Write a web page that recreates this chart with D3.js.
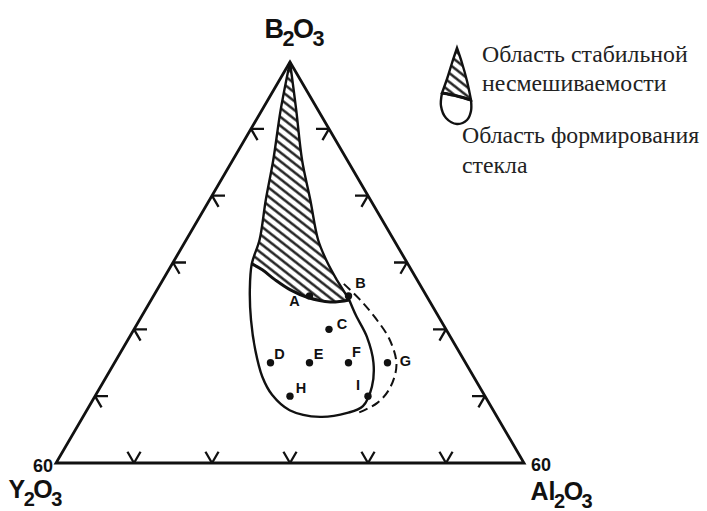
<!DOCTYPE html>
<html>
<head>
<meta charset="utf-8">
<script src="https://cdn.jsdelivr.net/npm/d3@7"></script>
<style>
  body { margin: 0; background: #fff; }
  svg { display: block; }
</style>
</head>
<body>
<svg width="707" height="511"></svg>
<script>

// compositions, mol % : [B2O3, Al2O3]  (Y2O3 = 100 - rest)
var pointNames = ["A", "B", "C", "D", "E", "F", "G", "H", "I"];
var pointB2O3  = [65, 65, 60, 55, 55, 55, 55, 50, 50];
var pointAl2O3 = [20, 25, 25, 20, 25, 30, 35, 25, 35];

// glass forming region, left side from the B2O3 corner down, then the bottom loop up to B
var glassLeft   = [[100, 0], [92.8, 2.4], [85.3, 5.2], [79.4, 7.2], [73.4, 9.4], [69.8, 10.2]];
var glassBottom = [[65.9, 11.9], [61.4, 14.3], [56.9, 17.1], [52.9, 20.0], [50.2, 22.6], [47.9, 26.0],
                   [46.9, 30.4], [47.5, 33.6], [48.5, 35.1], [51.4, 34.8], [55.0, 33.2], [58.9, 30.4],
                   [62.1, 27.4], [64.4, 25.4]];
// stable immiscibility region: lower limit (A..B) and right side (B..corner)
var mixBottom = [[69.8, 10.2], [68.9, 12.0], [67.4, 14.4], [65.9, 17.1], [64.8, 19.8], [64.1, 23.1], [64.4, 25.4]];
var mixRight  = [[64.4, 25.4], [67.4, 22.3], [70.1, 19.7], [73.4, 16.9], [79.4, 12.9], [85.3, 8.9], [92.8, 4.4], [100, 0]];
// dashed limit through G
var dashedLimit = [[66.8, 23.5], [64.4, 26.8], [61.7, 30.1], [58.4, 33.6], [54.7, 36.3], [51.2, 37.2], [49.0, 36.7], [47.5, 35.0]];

var tickSteps = [10, 20, 30, 40, 50];
var cornerValue = "60";
var legendText = ["Область стабильной", "несмешиваемости", "Область формирования", "стекла"];

//###############################################
// scales / ternary projection (B2O3 from 40 to 100)
//###############################################
var xScale = d3.scaleLinear().domain([0, 60]).range([56, 524]);
var yScale = d3.scaleLinear().domain([40, 100]).range([463, 62]);

function project(b, a) {
  return [xScale(a + (b - 40) / 2), yScale(b)];
}

var curve = d3.line()
  .x(function(d) { return project(d[0], d[1])[0]; })
  .y(function(d) { return project(d[0], d[1])[1]; })
  .curve(d3.curveCatmullRom.alpha(0.5));

// join several curves into one path
function joined(parts) {
  return parts.map(function(p, i) {
    var s = curve(p);
    return i ? s.replace(/^M/, "L") : s;
  }).join("");
}

var svg = d3.select("svg");
svg.append("rect").attr("width", 707).attr("height", 511).attr("fill", "#fff");

var defs = svg.append("defs");
var pat = defs.append("pattern")
  .attr("id", "hatch")
  .attr("patternUnits", "userSpaceOnUse")
  .attr("width", 7).attr("height", 7)
  .attr("patternTransform", "rotate(38)");
pat.append("rect").attr("width", 7).attr("height", 7).attr("fill", "#fff");
pat.append("line")
  .attr("x1", 0).attr("y1", 3.5).attr("x2", 7).attr("y2", 3.5)
  .attr("stroke", "#111").attr("stroke-width", 2.3);

//###############################################
// triangle + ticks
//###############################################
var T = project(100, 0), L = project(40, 0), R = project(40, 60);

svg.append("path")
  .attr("d", "M" + T + "L" + L + "L" + R + "Z")
  .attr("fill", "none").attr("stroke", "#111").attr("stroke-width", 2.8)
  .attr("stroke-linejoin", "miter");

function unit(p, q) {
  var dx = q[0] - p[0], dy = q[1] - p[1], n = Math.hypot(dx, dy);
  return [dx / n, dy / n];
}
var upRight = unit(L, T), upLeft = unit(R, T), downRight = unit(T, R), downLeft = unit(T, L);
var armLen = 13;

var tickData = [];
tickSteps.forEach(function(t) {
  tickData.push({ p: project(40, t), arms: [upLeft, upRight] });          // bottom
  tickData.push({ p: project(40 + t, 0), arms: [[1, 0], downRight] });     // Y2O3 side
  tickData.push({ p: project(40 + t, 60 - t), arms: [[-1, 0], downLeft] }); // Al2O3 side
});

svg.append("g").selectAll("path")
  .data(tickData)
  .enter().append("path")
    .attr("d", function(d) {
      return d.arms.map(function(a) {
        return "M" + d.p + "L" + [d.p[0] + a[0] * armLen, d.p[1] + a[1] * armLen];
      }).join("");
    })
    .attr("fill", "none").attr("stroke", "#111").attr("stroke-width", 2.3);

//###############################################
// regions
//###############################################
svg.append("path")
  .attr("d", joined([glassLeft, mixBottom.slice(1), mixRight.slice(1)]) + "Z")
  .attr("fill", "url(#hatch)").attr("stroke", "none");

svg.append("path")
  .attr("d", joined([glassLeft.concat(glassBottom), mixRight.slice(1)]))
  .attr("fill", "none").attr("stroke", "#111").attr("stroke-width", 2.4)
  .attr("stroke-linejoin", "round");

svg.append("path")
  .attr("d", curve(mixBottom))
  .attr("fill", "none").attr("stroke", "#111").attr("stroke-width", 3);

svg.append("path")
  .attr("d", curve(dashedLimit))
  .attr("fill", "none").attr("stroke", "#111").attr("stroke-width", 2)
  .attr("stroke-dasharray", "9,5");

//###############################################
// composition points
//###############################################
var points = pointNames.map(function(n, i) {
  return { name: n, b: pointB2O3[i], a: pointAl2O3[i] };
});
var labelOffset = { A: [-15, 5], B: [12, -13], C: [13, -6], D: [9, -9], E: [9, -9],
                    F: [8, -11], G: [18, -2], H: [11, -8], I: [-10, -11] };

var pg = svg.append("g");
pg.selectAll("circle")
  .data(points)
  .enter().append("circle")
    .attr("cx", function(d) { return project(d.b, d.a)[0]; })
    .attr("cy", function(d) { return project(d.b, d.a)[1]; })
    .attr("r", 3.7)
    .attr("fill", "#111");

pg.selectAll("text")
  .data(points)
  .enter().append("text")
    .attr("x", function(d) { return project(d.b, d.a)[0] + labelOffset[d.name][0]; })
    .attr("y", function(d) { return project(d.b, d.a)[1] + labelOffset[d.name][1]; })
    .attr("dy", "0.36em")
    .attr("text-anchor", "middle")
    .attr("font-family", "Liberation Sans, Arial, sans-serif")
    .attr("font-weight", "bold")
    .attr("font-size", 14.5)
    .attr("fill", "#111")
    .text(function(d) { return d.name; });

//###############################################
// corner labels
//###############################################
function formula(x, y, parts, size, anchor) {
  var t = svg.append("text")
    .attr("x", x).attr("y", y)
    .attr("text-anchor", anchor || "start")
    .attr("font-family", "Liberation Sans, Arial, sans-serif")
    .attr("font-weight", "bold")
    .attr("fill", "#111");
  var down = false;
  parts.forEach(function(p) {
    var sub = /\d/.test(p);
    var dy = sub && !down ? size * 0.3 : (!sub && down ? -size * 0.3 : 0);
    down = sub;
    t.append("tspan")
      .attr("font-size", sub ? size * 0.8 : size)
      .attr("dy", dy)
      .attr("dx", -1.5)
      .text(p);
  });
}

formula(296, 38, ["B", "2", "O", "3"], 27, "middle");
formula(10, 498, ["Y", "2", "O", "3"], 25);
formula(532, 500, ["Al", "2", "O", "3"], 25);

svg.append("text").attr("x", 53).attr("y", 472).attr("text-anchor", "end")
  .attr("font-family", "Liberation Sans, Arial, sans-serif").attr("font-weight", "bold")
  .attr("font-size", 18).attr("fill", "#111").text(cornerValue);
svg.append("text").attr("x", 531).attr("y", 471)
  .attr("font-family", "Liberation Sans, Arial, sans-serif").attr("font-weight", "bold")
  .attr("font-size", 18).attr("fill", "#111").text(cornerValue);

//###############################################
// legend
//###############################################
var lg = svg.append("g").attr("transform", "translate(457,48)");
var lline = d3.line().curve(d3.curveCatmullRom.alpha(0.5));
var coneL = [[0, 0], [-5, 15], [-10, 31], [-15, 45]];
var coneB = [[-15, 45], [0, 48], [14, 52]];
var coneR = [[14, 52], [10, 33], [5, 15], [0, 0]];
var lower = [[-15, 45], [-16, 58], [-11, 70], [0, 76], [10, 72], [14, 63], [14, 52]];

lg.append("path")
  .attr("d", lline(coneL) + lline(coneB).replace(/^M/, "L") + lline(coneR).replace(/^M/, "L") + "Z")
  .attr("fill", "url(#hatch)").attr("stroke", "#111").attr("stroke-width", 2.4);
lg.append("path")
  .attr("d", lline(lower))
  .attr("fill", "none").attr("stroke", "#111").attr("stroke-width", 2.4);
lg.append("path")
  .attr("d", lline(coneB))
  .attr("fill", "none").attr("stroke", "#111").attr("stroke-width", 3);

var legendPos = [[482, 62], [482, 91], [462, 143], [462, 173]];
svg.append("g").selectAll("text")
  .data(legendText)
  .enter().append("text")
    .attr("x", function(d, i) { return legendPos[i][0]; })
    .attr("y", function(d, i) { return legendPos[i][1]; })
    .attr("font-family", "Liberation Serif, Times New Roman, serif")
    .attr("font-size", 23.8)
    .attr("fill", "#222")
    .text(function(d) { return d; });

</script>
</body>
</html>
